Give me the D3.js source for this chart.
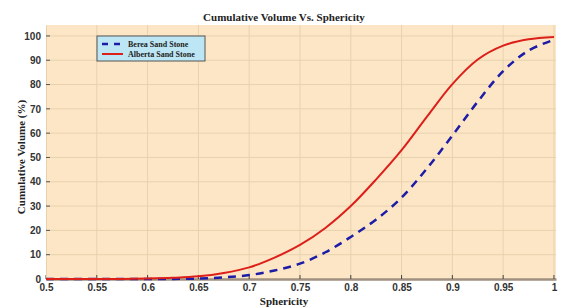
<!DOCTYPE html>
<html>
<head>
<meta charset="utf-8">
<script src="https://cdn.jsdelivr.net/npm/d3@7"></script>
<style>
  body { margin: 0; background: #fff; }
  svg { display: block; font-family: "Liberation Serif", "Times New Roman", serif; font-weight: bold; }
</style>
</head>
<body>
<svg width="564" height="307"></svg>
<script>
// sphericity values (x) shared by both curves
var sphericity = [0.5, 0.525, 0.55, 0.575, 0.6, 0.625, 0.65, 0.675, 0.7, 0.725, 0.75,
                  0.775, 0.8, 0.825, 0.85, 0.875, 0.9, 0.925, 0.95, 0.975, 1];
// cumulative volume (%)
var berea   = [0, 0, 0, 0, 0, 0.05, 0.2, 0.7, 1.6, 3.5, 6.3,
               11, 17.3, 24.5, 33.5, 45.5, 59, 73, 85.5, 94, 98.4];
var alberta = [0, 0, 0, 0.05, 0.2, 0.5, 1.1, 2.5, 4.8, 8.8, 14,
               21, 30, 41, 53, 66.8, 80.2, 90.3, 96, 98.6, 99.6];
var seriesNames = ["Berea Sand Stone", "Alberta Sand Stone"];
var xTicks = [0.5, 0.55, 0.6, 0.65, 0.7, 0.75, 0.8, 0.85, 0.9, 0.95, 1];
var yTicks = [0, 10, 20, 30, 40, 50, 60, 70, 80, 90, 100];

drawChart();

function drawChart() {
  var svg = d3.select("svg");
  var pLeft = 46, pRight = 556, pTop = 25, pBottom = 279;

  var x = d3.scaleLinear().domain([0.5, 1.002]).range([pLeft, pRight]);
  var y = d3.scaleLinear().domain([0, 104.5]).range([pBottom, pTop]);

  // plot background
  svg.append("rect")
    .attr("x", pLeft).attr("y", pTop)
    .attr("width", pRight - pLeft).attr("height", pBottom - pTop)
    .style("fill", "#fce6c6");

  // grid
  svg.append("g").selectAll("line")
    .data(xTicks.slice(1))
    .enter().append("line")
    .attr("x1", function(d) {return x(d)}).attr("x2", function(d) {return x(d)})
    .attr("y1", pTop).attr("y2", pBottom)
    .style("stroke", "#e8d2ae").style("stroke-width", "1px");

  svg.append("g").selectAll("line")
    .data(yTicks.slice(1))
    .enter().append("line")
    .attr("x1", pLeft).attr("x2", pRight)
    .attr("y1", function(d) {return y(d)}).attr("y2", function(d) {return y(d)})
    .style("stroke", "#e8d2ae").style("stroke-width", "1px");

  // axes
  var xAxis = d3.axisBottom(x).tickValues(xTicks).tickSize(0).tickPadding(5)
    .tickFormat(function(d) {return String(+d.toFixed(2))});
  var gx = svg.append("g").attr("transform", "translate(0," + pBottom + ")").call(xAxis);
  gx.select(".domain").style("stroke", "#a09080").style("stroke-width", "2.5px");
  gx.selectAll("text").style("font-size", "10px").style("fill", "#333")
    .attr("font-family", null);

  // small tick marks inside plot
  svg.append("g").selectAll("line")
    .data(xTicks)
    .enter().append("line")
    .attr("x1", function(d) {return x(d)}).attr("x2", function(d) {return x(d)})
    .attr("y1", pBottom).attr("y2", pBottom - 4)
    .style("stroke", "#444").style("stroke-width", "1px");

  var yAxis = d3.axisLeft(y).tickValues(yTicks).tickSize(0).tickPadding(5);
  var gy = svg.append("g").attr("transform", "translate(" + pLeft + ",0)").call(yAxis);
  gy.select(".domain").style("stroke", "#e8d2ae");
  gy.selectAll("text").style("font-size", "10px").style("fill", "#333")
    .attr("font-family", null);

  svg.append("g").selectAll("line")
    .data(yTicks)
    .enter().append("line")
    .attr("x1", pLeft).attr("x2", pLeft + 4)
    .attr("y1", function(d) {return y(d)}).attr("y2", function(d) {return y(d)})
    .style("stroke", "#555").style("stroke-width", "1px");

  // curves
  var line = d3.line()
    .x(function(d) {return x(d[0])})
    .y(function(d) {return y(d[1])})
    .curve(d3.curveCatmullRom.alpha(0.5));

  svg.append("path")
    .datum(d3.zip(sphericity, berea))
    .attr("d", line)
    .style("fill", "none")
    .style("stroke", "#1c1ca6")
    .style("stroke-width", "2.5px")
    .style("stroke-dasharray", "8,6");

  svg.append("path")
    .datum(d3.zip(sphericity, alberta))
    .attr("d", line)
    .style("fill", "none")
    .style("stroke", "#dd1f1a")
    .style("stroke-width", "2px");

  // title and labels
  svg.append("text")
    .attr("x", 284).attr("y", 21)
    .attr("text-anchor", "middle")
    .style("font-size", "11px").style("fill", "#222")
    .text("Cumulative Volume Vs. Sphericity");

  svg.append("text")
    .attr("x", 284).attr("y", 305)
    .attr("text-anchor", "middle")
    .style("font-size", "11px").style("fill", "#222")
    .text("Sphericity");

  svg.append("text")
    .attr("transform", "translate(25,157) rotate(-90)")
    .attr("text-anchor", "middle")
    .style("font-size", "11px").style("fill", "#222")
    .text("Cumulative Volume (%)");

  // legend
  var legend = svg.append("g").attr("transform", "translate(97,36)");
  legend.append("rect")
    .attr("width", 108).attr("height", 25)
    .style("fill", "#bde6f4")
    .style("stroke", "#555").style("stroke-width", "1px");

  var styles = [
    {color: "#1c1ca6", dash: "6,6", width: 2.5},
    {color: "#dd1f1a", dash: null, width: 2}
  ];
  var entries = legend.selectAll("g.entry")
    .data(seriesNames)
    .enter().append("g")
    .attr("transform", function(d, i) {return "translate(0," + (8 + i * 10) + ")"});

  entries.append("line")
    .attr("x1", 5).attr("x2", 26)
    .attr("y1", 0).attr("y2", 0)
    .style("stroke", function(d, i) {return styles[i].color})
    .style("stroke-width", function(d, i) {return styles[i].width})
    .style("stroke-dasharray", function(d, i) {return styles[i].dash});

  entries.append("text")
    .attr("x", 31).attr("y", 3)
    .style("font-size", "8px").style("fill", "#222")
    .text(function(d) {return d});
}
</script>
</body>
</html>
